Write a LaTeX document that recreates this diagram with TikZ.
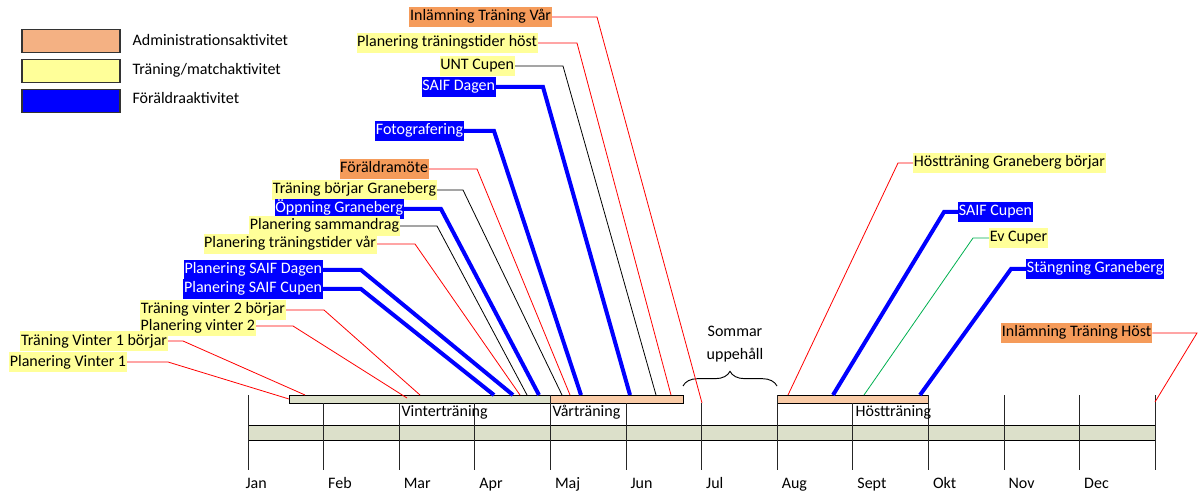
\documentclass[tikz,border=0pt]{standalone}
\usepackage{fontspec}
\setmainfont{Carlito}
\usepackage{tikz}
\usetikzlibrary{decorations.pathreplacing}

\definecolor{adminbox}{HTML}{F4B183}
\definecolor{adminbar}{HTML}{F9CBA7}
\definecolor{adminlbl}{HTML}{F59B5A}
\definecolor{trainlbl}{HTML}{FFFF99}
\definecolor{parentlbl}{HTML}{0000FF}
\definecolor{seasonbar}{HTML}{DCE0CA}
\definecolor{linegreen}{HTML}{00B050}

\begin{document}
\begin{tikzpicture}[x = 0.75pt, y = -0.75pt, every node/.style = {font = \fontsize{12}{14}\selectfont, inner sep = 1pt},
  lbl/.style = {text height = 8.6pt, text depth = 2.6pt, inner xsep = 0.5pt, inner ysep = 1.6pt},
  adm/.style = {lbl, fill = adminlbl},
  trn/.style = {lbl, fill = trainlbl},
  par/.style = {lbl, fill = parentlbl, text = white},
  redln/.style = {draw = red, line width = 0.6pt},
  blkln/.style = {draw = black, line width = 0.6pt},
  grnln/.style = {draw = linegreen, line width = 0.6pt},
  bluln/.style = {draw = parentlbl, line width = 3pt},
  legbox/.style = {draw = black!80, line width = 0.8pt, minimum width = 73.5pt, minimum height = 17pt, inner sep = 0pt},
  tick/.style = {draw = black!85, line width = 0.7pt}]

  \useasboundingbox (0, 0) rectangle (1202, 491);

  \node [legbox, fill = adminbox] (lgadm) at (71, 41) {};
  \node [legbox, fill = trainlbl] (lgtrn) at (71, 71) {};
  \node [legbox, fill = parentlbl] (lgpar) at (71, 101) {};
  \node [anchor = west] (ltadm) at (131, 40) {Administrationsaktivitet};
  \node [anchor = west] (lttrn) at (131, 70) {Träning/matchaktivitet};
  \node [anchor = west] (ltpar) at (131, 98) {Föräldraaktivitet};

  \draw [fill = seasonbar, line width = 0.6pt] (248, 425) rectangle (1155, 440);
  \draw [fill = seasonbar, line width = 0.6pt] (289, 395) rectangle (550, 403);
  \draw [fill = adminbar, line width = 0.6pt] (550, 395) rectangle (683, 403);
  \draw [fill = adminbar, line width = 0.6pt] (777, 395) rectangle (928, 403);

  \foreach \mon/\top/\dx [count = \i from 0] in {Jan/395/-4, Feb/403/3, Mar/403/3, Apr/403/3, Maj/395/3, Jun/403/3, Jul/403/3, Aug/395/3, Sept/403/3, Okt/395/3, Nov/395/3, Dec/395/3}
  {
    \draw [tick] (248 + 75.6 * \i, \top) -- (248 + 75.6 * \i, 470);
    \node [anchor = base west] (m\i) at (248 + 75.6 * \i + \dx, 488) {\mon};
  }
  \draw [tick] (1155, 395) -- (1155, 470);

  \node [anchor = base west] (vint) at (400, 416) {Vinterträning};
  \node [anchor = base west] (vart) at (551, 416) {Vårträning};
  \node [anchor = base west] (hostt) at (854, 416) {Höstträning};

  \node [align = center, font = \fontsize{12}{17}\selectfont] (somr) at (735, 344) {Sommar\\uppehåll};
  \draw [decorate, decoration = {brace, amplitude = 11pt}, line width = 0.7pt] (683, 386) -- (777, 386);

  \node [adm, anchor = east] (ivar) at (552, 17) {Inlämning Träning Vår};
  \node [trn, anchor = east] (pth) at (538, 43) {Planering träningstider höst};
  \node [trn, anchor = east] (unt) at (515, 66) {UNT Cupen};
  \node [par, anchor = east] (sdag) at (496, 87) {SAIF Dagen};
  \node [par, anchor = east] (foto) at (464, 131) {Fotografering};
  \node [adm, anchor = east] (fmot) at (429, 169) {Föräldramöte};
  \node [trn, anchor = east] (tbg) at (437, 190) {Träning börjar Graneberg};
  \node [par, anchor = east] (opg) at (404, 209) {Öppning Graneberg};
  \node [trn, anchor = east] (psam) at (400, 226) {Planering sammandrag};
  \node [trn, anchor = east] (ptv) at (377, 244) {Planering träningstider vår};
  \node [par, anchor = east] (psd) at (323, 270) {Planering SAIF Dagen};
  \node [par, anchor = east] (psc) at (323, 289) {Planering SAIF Cupen};
  \node [trn, anchor = east] (tv2) at (286, 310) {Träning vinter 2 börjar};
  \node [trn, anchor = east] (pv2) at (256, 326) {Planering vinter 2};
  \node [trn, anchor = east] (tv1) at (168, 341) {Träning Vinter 1 börjar};
  \node [trn, anchor = east] (pv1) at (127, 362) {Planering Vinter 1};

  \node [trn, anchor = west] (hgb) at (913, 163) {Höstträning Graneberg börjar};
  \node [par, anchor = west] (scup) at (958, 212) {SAIF Cupen};
  \node [trn, anchor = west] (evc) at (989, 238) {Ev Cuper};
  \node [par, anchor = west] (stg) at (1026, 269) {Stängning Graneberg};
  \node [adm, anchor = west] (ihost) at (1001, 333) {Inlämning Träning Höst};

  \coordinate (ivar-b) at (597, 17);
  \coordinate (ivar-e) at (702, 403);
  \coordinate (pth-b) at (577, 43);
  \coordinate (pth-e) at (671, 395);
  \coordinate (unt-b) at (563, 66);
  \coordinate (unt-e) at (656, 395);
  \coordinate (sdag-b) at (543, 87);
  \coordinate (sdag-e) at (630, 395);
  \coordinate (foto-b) at (494, 131);
  \coordinate (foto-e) at (581, 395);
  \coordinate (fmot-b) at (477, 169);
  \coordinate (fmot-e) at (570, 395);
  \coordinate (tbg-b) at (463, 190);
  \coordinate (tbg-e) at (562, 395);
  \coordinate (opg-b) at (441, 209);
  \coordinate (opg-e) at (539, 395);
  \coordinate (psam-b) at (437, 226);
  \coordinate (psam-e) at (527, 395);
  \coordinate (ptv-b) at (415, 244);
  \coordinate (ptv-e) at (520, 395);
  \coordinate (psd-b) at (361, 270);
  \coordinate (psd-e) at (513, 395);
  \coordinate (psc-b) at (361, 289);
  \coordinate (psc-e) at (494, 395);
  \coordinate (tv2-b) at (324, 310);
  \coordinate (tv2-e) at (420, 395);
  \coordinate (pv2-b) at (293, 326);
  \coordinate (pv2-e) at (407, 398);
  \coordinate (tv1-b) at (183, 341);
  \coordinate (tv1-e) at (305, 395);
  \coordinate (pv1-b) at (168, 362);
  \coordinate (pv1-e) at (289, 399);

  \coordinate (hgb-b) at (898, 163);
  \coordinate (hgb-e) at (788, 395);
  \coordinate (scup-b) at (944, 212);
  \coordinate (scup-e) at (833, 395);
  \coordinate (evc-b) at (973, 238);
  \coordinate (evc-e) at (864, 395);
  \coordinate (stg-b) at (1011, 269);
  \coordinate (stg-e) at (920, 395);
  \coordinate (ihost-b) at (1197, 333);
  \coordinate (ihost-e) at (1155, 402);

  \draw [redln] (ivar.east) -- (ivar-b) -- (ivar-e);
  \draw [redln] (pth.east) -- (pth-b) -- (pth-e);
  \draw [blkln] (unt.east) -- (unt-b) -- (unt-e);
  \draw [bluln] (sdag.east) -- (sdag-b) -- (sdag-e);
  \draw [bluln] (foto.east) -- (foto-b) -- (foto-e);
  \draw [redln] (fmot.east) -- (fmot-b) -- (fmot-e);
  \draw [blkln] (tbg.east) -- (tbg-b) -- (tbg-e);
  \draw [bluln] (opg.east) -- (opg-b) -- (opg-e);
  \draw [blkln] (psam.east) -- (psam-b) -- (psam-e);
  \draw [redln] (ptv.east) -- (ptv-b) -- (ptv-e);
  \draw [bluln] (psd.east) -- (psd-b) -- (psd-e);
  \draw [bluln] (psc.east) -- (psc-b) -- (psc-e);
  \draw [redln] (tv2.east) -- (tv2-b) -- (tv2-e);
  \draw [redln] (pv2.east) -- (pv2-b) -- (pv2-e);
  \draw [redln] (tv1.east) -- (tv1-b) -- (tv1-e);
  \draw [redln] (pv1.east) -- (pv1-b) -- (pv1-e);

  \draw [redln] (hgb.west) -- (hgb-b) -- (hgb-e);
  \draw [bluln] (scup.west) -- (scup-b) -- (scup-e);
  \draw [grnln] (evc.west) -- (evc-b) -- (evc-e);
  \draw [bluln] (stg.west) -- (stg-b) -- (stg-e);
  \draw [redln] (ihost.east) -- (ihost-b) -- (ihost-e);

\end{tikzpicture}
\end{document}
